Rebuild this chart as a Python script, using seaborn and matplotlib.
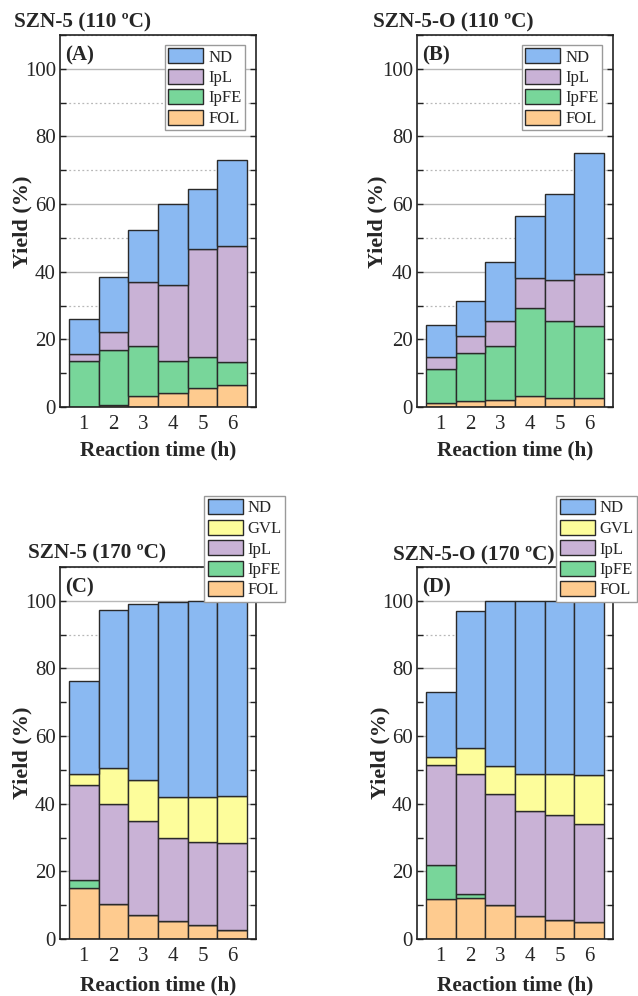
import matplotlib
matplotlib.use("Agg")
import matplotlib.pyplot as plt
from matplotlib.patches import Patch
from matplotlib.ticker import MultipleLocator
import pandas as pd
import seaborn as sns

# Reaction times (h)
times = [1, 2, 3, 4, 5, 6]

# Product yields (%) for each stacked segment
# SZN-5 at 110 °C
a_fol = [0.0, 0.6, 3.2, 4.2, 5.6, 6.4]
a_ipfe = [13.5, 16.3, 14.8, 9.5, 9.1, 6.9]
a_ipl = [2.2, 5.3, 19.1, 22.4, 31.9, 34.2]
a_nd = [10.2, 16.3, 15.2, 23.9, 18.0, 25.4]

# SZN-5-O at 110 °C
b_fol = [1.1, 1.9, 2.2, 3.3, 2.6, 2.7]
b_ipfe = [10.1, 14.0, 15.9, 25.9, 22.8, 21.2]
b_ipl = [3.7, 5.0, 7.3, 8.9, 12.3, 15.4]
b_nd = [9.2, 10.3, 17.6, 18.3, 25.3, 35.9]

# SZN-5 at 170 °C
c_fol = [15.0, 10.4, 7.1, 5.4, 4.1, 2.6]
c_ipfe = [2.3, 0.0, 0.0, 0.0, 0.0, 0.0]
c_ipl = [28.1, 29.6, 27.9, 24.6, 24.5, 25.7]
c_gvl = [3.5, 10.5, 12.1, 12.0, 13.4, 14.1]
c_nd = [27.4, 46.7, 52.1, 57.7, 58.0, 57.6]

# SZN-5-O at 170 °C
d_fol = [11.9, 12.1, 10.0, 6.8, 5.7, 5.1]
d_ipfe = [10.0, 1.1, 0.0, 0.0, 0.0, 0.0]
d_ipl = [29.5, 35.5, 32.9, 31.0, 30.9, 28.8]
d_gvl = [2.4, 7.9, 8.2, 10.9, 12.1, 14.5]
d_nd = [19.1, 40.3, 48.9, 51.3, 51.3, 51.6]

titles = ["SZN-5 (110 \u00baC)", "SZN-5-O (110 \u00baC)",
          "SZN-5 (170 \u00baC)", "SZN-5-O (170 \u00baC)"]
letters = ["(A)", "(B)", "(C)", "(D)"]

colors = {"ND": "#8ab9f2", "GVL": "#fdfd9b", "IpL": "#c9b2d6",
          "IpFE": "#78d69a", "FOL": "#fecb8f"}
edge = "#2a2a2a"

sns.set_theme(style="white")
plt.rcParams["font.family"] = ["Liberation Serif", "DejaVu Serif"]
plt.rcParams["axes.unicode_minus"] = False


def to_frame(series):
    rows = []
    for name, vals in series.items():
        for t, v in zip(times, vals):
            rows.append({"time": t, "product": name, "yield": v})
    return pd.DataFrame(rows)


panels = [
    {"ND": a_nd, "IpL": a_ipl, "IpFE": a_ipfe, "FOL": a_fol},
    {"ND": b_nd, "IpL": b_ipl, "IpFE": b_ipfe, "FOL": b_fol},
    {"ND": c_nd, "GVL": c_gvl, "IpL": c_ipl, "IpFE": c_ipfe, "FOL": c_fol},
    {"ND": d_nd, "GVL": d_gvl, "IpL": d_ipl, "IpFE": d_ipfe, "FOL": d_fol},
]

W, H = 638, 996
fig = plt.figure(figsize=(W / 100, H / 100), dpi=100)
fig.patch.set_facecolor("white")


def px_rect(x0, y_top, y_bot, w=196):
    return [x0 / W, 1 - y_bot / H, w / W, (y_bot - y_top) / H]


rects = [px_rect(60, 35, 407), px_rect(417, 35, 407),
         px_rect(60, 567, 939), px_rect(417, 567, 939)]
legend_anchor = [(245, 45), (602, 45), (285, 496), (637, 496)]
title_pos = [(14, 22), (373, 22), (28, 553), (393, 555)]
ylabel_pos = [(22, 222), (377, 222), (22, 753), (380, 753)]
xlabel_y = [450, 450, 985, 985]

for i, series in enumerate(panels):
    ax = fig.add_axes(rects[i])
    order = list(series.keys())
    df = to_frame(series)
    # stacked bars: the last hue level sits at the bottom of each stack
    sns.histplot(data=df, x="time", weights="yield", hue="product",
                 hue_order=order, multiple="stack", discrete=True,
                 shrink=1.0, palette=colors, alpha=1.0, edgecolor=edge,
                 linewidth=1.0, legend=False, ax=ax)

    ax.set_xlim(0.2, 6.8)
    ax.set_ylim(0, 110)
    ax.set_xticks(times)
    ax.yaxis.set_major_locator(MultipleLocator(20))
    ax.yaxis.set_minor_locator(MultipleLocator(10))
    ax.set_axisbelow(True)
    ax.grid(True, which="major", axis="y", color="#b8b8b8", linewidth=1.0,
            linestyle="-")
    ax.grid(True, which="minor", axis="y", color="#b8b8b8", linewidth=0.9,
            linestyle=(0, (1.5, 2)))
    ax.tick_params(axis="y", which="both", direction="in", left=True,
                   right=True, length=4, width=1.0, color="#222222",
                   labelsize=15, pad=3)
    ax.tick_params(axis="x", length=0, labelsize=15, pad=6)
    for sp in ax.spines.values():
        sp.set_color("#222222")
        sp.set_linewidth(1.2)

    ax.set_ylabel("")
    ax.set_xlabel("")
    ax.text(0.025, 0.945, letters[i], transform=ax.transAxes,
            fontsize=15, fontweight="bold", ha="left", va="center")

    handles = [Patch(facecolor=colors[k], edgecolor=edge, linewidth=1.0,
                     label=k) for k in order]
    lx_px, ly_px = legend_anchor[i]
    ax.legend(handles=handles, loc="upper right",
              bbox_to_anchor=(lx_px / W, 1 - ly_px / H),
              bbox_transform=fig.transFigure, borderaxespad=0,
              frameon=True, fancybox=False, framealpha=1,
              edgecolor="#9a9a9a", fontsize=12, handlelength=2.1,
              handleheight=1.0, labelspacing=0.2, handletextpad=0.3,
              borderpad=0.2)

    tx, ty = title_pos[i]
    fig.text(tx / W, 1 - ty / H, titles[i], fontsize=15.3, fontweight="bold",
             ha="left", va="center")
    yx, yy = ylabel_pos[i]
    fig.text(yx / W, 1 - yy / H, "Yield (%)", fontsize=16,
             fontweight="bold", rotation=90, ha="center", va="center")
    cx = rects[i][0] + rects[i][2] / 2
    fig.text(cx, 1 - xlabel_y[i] / H, "Reaction time (h)", fontsize=15.3,
             fontweight="bold", ha="center", va="center")

fig.savefig("out.png", dpi=100, facecolor="white")
